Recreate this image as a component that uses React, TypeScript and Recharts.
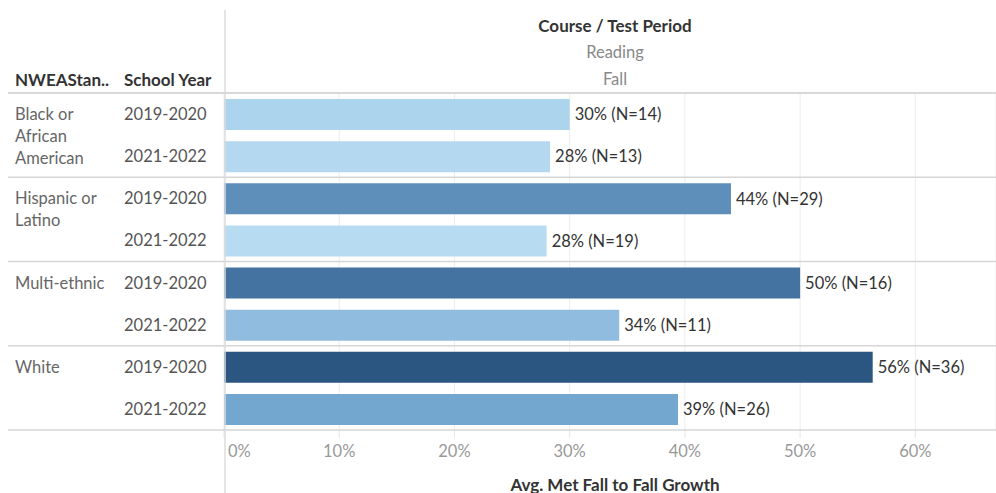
import { Bar, BarChart, CartesianGrid, Cell, LabelList, XAxis, YAxis } from 'recharts';

const groupLines = [['Black or', 'African', 'American'], ['Hispanic or', 'Latino'], ['Multi-ethnic'], ['White']];
const schoolYears = ['2019-2020', '2021-2022'];
const metGrowth = [0.3, 0.283, 0.44, 0.28, 0.5, 0.343, 0.563, 0.394];
const studentCounts = [14, 13, 29, 19, 16, 11, 36, 26];
const barColors = ['#acd4ed', '#b3d8ef', '#5e8fbb', '#b7dcf1', '#4573a1', '#90bddf', '#2b5682', '#74a7cf'];
const xTicks = [0, 0.1, 0.2, 0.3, 0.4, 0.5, 0.6];

const WIDTH = 996;
const HEIGHT = 493;
const TOP = 93;
const BOTTOM = 63;
const AXIS_H = 30;
const FONT = 'Lato, "Open Sans", sans-serif';
const FS = 16.5;
const FS_BOLD = 17;

const rows = metGrowth.map((value, i) => ({
  key: `${Math.floor(i / schoolYears.length)}|${schoolYears[i % schoolYears.length]}`,
  value,
  label: `${Math.round(value * 100)}% (N=${studentCounts[i]})`
}));

const rowH = (HEIGHT - TOP - BOTTOM) / rows.length;

function RowTick({ y, payload, index }: any) {
  const [g, year] = String(payload.value).split('|');
  const first = index % schoolYears.length === 0;
  const last = index === rows.length - 1;
  return (
    <g fontFamily={FONT} fontSize={FS}>
      {first && (
        <line x1={8} x2={WIDTH} y1={y - rowH / 2} y2={y - rowH / 2} stroke="#d6d6d6" strokeWidth={1.5} />
      )}
      {last && (
        <line x1={8} x2={WIDTH} y1={y + rowH / 2} y2={y + rowH / 2} stroke="#d6d6d6" strokeWidth={1.5} />
      )}
      {first &&
        groupLines[Number(g)].map((t, i) => (
          <text key={t} x={15} y={y + i * 22} dominantBaseline="central" fill="#666">
            {t}
          </text>
        ))}
      <text x={124} y={y} dominantBaseline="central" fill="#555">
        {year}
      </text>
    </g>
  );
}

function PctTick({ x, payload }: any) {
  const v = payload.value as number;
  return (
    <text
      x={v === 0 ? 228 : x}
      y={451}
      textAnchor={v === 0 ? 'start' : 'middle'}
      dominantBaseline="central"
      fontFamily={FONT}
      fontSize={FS}
      fill="#999"
    >
      {`${Math.round(v * 100)}%`}
    </text>
  );
}

export default function App() {
  return (
    <div style={{ position: 'absolute', left: 0, top: 0, width: WIDTH, height: HEIGHT, background: '#fff' }}>
      <BarChart
        width={WIDTH}
        height={HEIGHT}
        data={rows}
        layout="vertical"
        margin={{ top: TOP, right: 0, bottom: BOTTOM - AXIS_H, left: 8 }}
      >
        <CartesianGrid horizontal={false} stroke="#ececec" />
        <XAxis
          type="number"
          domain={[0, 0.67]}
          ticks={xTicks}
          height={AXIS_H}
          axisLine={false}
          tickLine={{ stroke: '#e6e6e6' }}
          tickSize={8}
          tick={<PctTick />}
        />
        <YAxis type="category" dataKey="key" width={216} axisLine={false} tickLine={false} tick={<RowTick />} />
        <Bar dataKey="value" barSize={31} isAnimationActive={false}>
          {rows.map((r, i) => (
            <Cell key={r.key} fill={barColors[i]} />
          ))}
          <LabelList dataKey="label" position="right" offset={5} fill="#333" fontSize={FS} fontFamily={FONT} />
        </Bar>
      </BarChart>
      <svg
        width={WIDTH}
        height={HEIGHT}
        style={{ position: 'absolute', left: 0, top: 0, pointerEvents: 'none' }}
        fontFamily={FONT}
        fontSize={FS}
      >
        <line x1={225} x2={225} y1={10} y2={HEIGHT} stroke="#dcdcdc" strokeWidth={1.5} />
        <line x1={8} x2={WIDTH} y1={TOP} y2={TOP} stroke="#d6d6d6" strokeWidth={1.5} />
        <text x={615} y={25} textAnchor="middle" dominantBaseline="central" fontWeight="bold" fontSize={FS_BOLD} fill="#333">
          Course / Test Period
        </text>
        <text x={615} y={52} textAnchor="middle" dominantBaseline="central" fill="#888">
          Reading
        </text>
        <text x={615} y={79} textAnchor="middle" dominantBaseline="central" fill="#888">
          Fall
        </text>
        <text x={15} y={79} dominantBaseline="central" fontWeight="bold" fontSize={FS_BOLD} fill="#333">
          NWEAStan..
        </text>
        <text x={124} y={79} dominantBaseline="central" fontWeight="bold" fontSize={FS_BOLD} fill="#333">
          School Year
        </text>
        <text x={615} y={484} textAnchor="middle" dominantBaseline="central" fontWeight="bold" fontSize={FS_BOLD} fill="#333">
          Avg. Met Fall to Fall Growth
        </text>
      </svg>
    </div>
  );
}
